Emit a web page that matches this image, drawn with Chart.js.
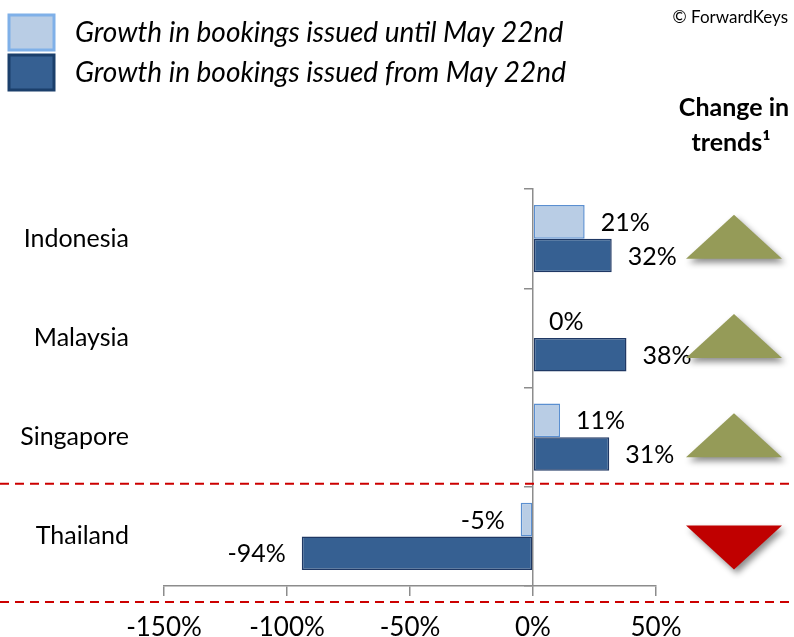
<!DOCTYPE html>
<html>
<head>
<meta charset="utf-8">
<script src="https://cdn.jsdelivr.net/npm/chart.js@4.4.0/dist/chart.umd.min.js"></script>
<style>
  html, body { margin: 0; padding: 0; background: #fff; }
</style>
</head>
<body>
<canvas id="chart" width="794" height="637"></canvas>
<script>
const countries = ['Indonesia', 'Malaysia', 'Singapore', 'Thailand'];
const untilMay22 = [21, 0, 11, -5];
const fromMay22 = [32, 38, 31, -94];
const trends = ['up', 'up', 'up', 'down'];
const xTickValues = [-150, -100, -50, 0, 50];
const seriesNames = ['Growth in bookings issued until May 22nd', 'Growth in bookings issued from May 22nd'];

const FONT = 'Lato, "Open Sans", sans-serif';
const lightFill = '#b9cde5', lightBorder = '#5b8fd0';
const darkFill = '#366092', darkBorder = '#1f3864';

Chart.defaults.font.family = FONT;
Chart.defaults.color = '#000';

// draws legend, header, value labels, trend arrows and dashed separators
const extras = {
  id: 'extras',
  beforeDraw(chart) {
    const ctx = chart.ctx;
    ctx.save();
    // legend
    const boxes = [[lightFill, '#7fb0e8', 14], [darkFill, '#1b3f6b', 54]];
    boxes.forEach((b, i) => {
      ctx.fillStyle = b[0];
      ctx.strokeStyle = b[1];
      ctx.lineWidth = 3;
      ctx.fillRect(9, b[2] + 1, 45, 35);
      ctx.strokeRect(9, b[2] + 1, 45, 35);
      ctx.fillStyle = '#000';
      ctx.font = 'italic 28px ' + FONT;
      ctx.textBaseline = 'middle';
      ctx.textAlign = 'left';
      ctx.fillText(seriesNames[i], 75, b[2] + 19);
    });
    // copyright
    ctx.font = '17px ' + FONT;
    ctx.textAlign = 'right';
    ctx.fillText('\u00a9 ForwardKeys', 788, 18);
    // header
    ctx.font = 'bold 25px ' + FONT;
    ctx.textAlign = 'center';
    ctx.fillText('Change in', 734, 108);
    ctx.fillText('trends\u00b9', 731, 143);
    ctx.restore();
  },
  afterDraw(chart) {
    const ctx = chart.ctx;
    const y = chart.scales.y;
    ctx.save();
    // value labels
    ctx.font = '25px ' + FONT;
    ctx.fillStyle = '#000';
    ctx.textBaseline = 'middle';
    chart.data.datasets.forEach((ds, di) => {
      chart.getDatasetMeta(di).data.forEach((bar, i) => {
        const v = ds.data[i];
        const neg = v < 0;
        ctx.textAlign = neg ? 'right' : 'left';
        ctx.fillText(v + '%', bar.x + (neg ? -16 : 16), bar.y + 1);
      });
    });
    // trend triangles
    trends.forEach((t, i) => {
      const cy = y.getPixelForValue(i);
      const cx = 734, hw = 48;
      ctx.save();
      ctx.shadowColor = 'rgba(0,0,0,0.45)';
      ctx.shadowBlur = 6;
      ctx.shadowOffsetX = 3;
      ctx.shadowOffsetY = 4;
      ctx.beginPath();
      if (t === 'up') {
        ctx.fillStyle = '#959b58';
        ctx.moveTo(cx, cy - 24);
        ctx.lineTo(cx + hw, cy + 20);
        ctx.lineTo(cx - hw, cy + 20);
      } else {
        ctx.fillStyle = '#c00000';
        ctx.moveTo(cx - hw, cy - 11);
        ctx.lineTo(cx + hw, cy - 11);
        ctx.lineTo(cx, cy + 33);
      }
      ctx.closePath();
      ctx.fill();
      ctx.restore();
    });
    // dashed separators
    const sep = (y.getPixelForValue(2) + y.getPixelForValue(3)) / 2 - 3;
    ctx.strokeStyle = '#cc0000';
    ctx.lineWidth = 2;
    ctx.setLineDash([9, 6]);
    [sep, chart.chartArea.bottom + 16].forEach(py => {
      ctx.beginPath();
      ctx.moveTo(0, py);
      ctx.lineTo(794, py);
      ctx.stroke();
    });
    ctx.restore();
  }
};

new Chart(document.getElementById('chart'), {
  type: 'bar',
  data: {
    labels: countries,
    datasets: [
      { label: seriesNames[0], data: untilMay22, backgroundColor: lightFill, borderColor: lightBorder, borderWidth: 1.5, borderSkipped: false },
      { label: seriesNames[1], data: fromMay22, backgroundColor: darkFill, borderColor: darkBorder, borderWidth: 1.5, borderSkipped: false }
    ]
  },
  options: {
    indexAxis: 'y',
    responsive: false,
    animation: false,
    categoryPercentage: 0.68,
    barPercentage: 1,
    layout: { padding: { top: 189, right: 138, bottom: 0, left: 0 } },
    plugins: { legend: { display: false }, tooltip: { enabled: false } },
    scales: {
      x: {
        min: -150, max: 50,
        afterBuildTicks: s => { s.ticks = xTickValues.map(v => ({ value: v })); },
        afterFit: s => { s.height = 51; },
        border: { color: '#8c8c8c', width: 1.5 },
        grid: { drawOnChartArea: false, color: '#8c8c8c', tickLength: 10, lineWidth: 1.5 },
        ticks: { font: { size: 26 }, padding: 16, callback: v => v + '%', maxRotation: 0 }
      },
      y: {
        afterFit: s => { s.width = 164; },
        border: { display: false },
        grid: { display: false },
        ticks: { font: { size: 25 }, padding: 27 }
      },
      y0: {
        type: 'category',
        labels: countries,
        position: { x: 0 },
        offset: true,
        border: { color: '#8c8c8c', width: 1.5 },
        grid: { offset: true, drawOnChartArea: false, color: '#8c8c8c', tickLength: 8, lineWidth: 1.5 },
        ticks: { display: false }
      }
    }
  },
  plugins: [extras]
});
</script>
</body>
</html>
